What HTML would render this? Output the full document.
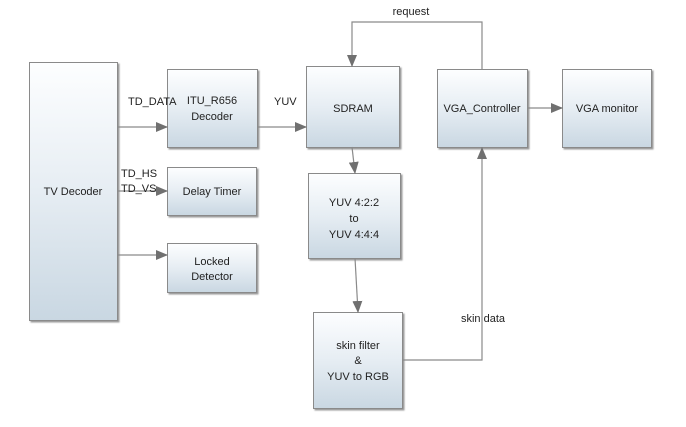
<!DOCTYPE html>
<html><head><style>body{margin:0;background:#fff}svg{display:block}text{font-family:"Liberation Sans",sans-serif;font-size:11px;fill:#222}</style></head>
<body>
<svg width="686" height="427" viewBox="0 0 686 427">
<defs>
<linearGradient id="g" x1="0" y1="0" x2="0" y2="1"><stop offset="0" stop-color="#fdfeff"/><stop offset="0.5" stop-color="#e6edf3"/><stop offset="1" stop-color="#c9d7e2"/></linearGradient>
<marker id="a" markerWidth="12" markerHeight="10" refX="11" refY="5" orient="auto" markerUnits="userSpaceOnUse"><path d="M0,0 L12,5 L0,10 z" fill="#707070"/></marker>
<filter id="s"><feDropShadow dx="1.5" dy="1.5" stdDeviation="0.8" flood-color="#999"/></filter>
</defs>
<g fill="url(#g)" stroke="#8a8a8a" stroke-width="1" filter="url(#s)">
<rect x="29.5" y="62.5" width="88" height="258"/>
<rect x="167.5" y="69.5" width="90" height="78"/>
<rect x="167.5" y="167.5" width="89" height="48"/>
<rect x="167.5" y="243.5" width="89" height="49"/>
<rect x="306.5" y="66.5" width="93" height="81"/>
<rect x="308.5" y="173.5" width="92" height="85"/>
<rect x="313.5" y="312.5" width="89" height="96"/>
<rect x="437.5" y="69.5" width="90" height="78"/>
<rect x="562.5" y="69.5" width="89" height="78"/>
</g>
<g stroke="#8a8a8a" stroke-width="1.2" fill="none">
<path d="M117,127 H167" marker-end="url(#a)"/>
<path d="M257,127 H306" marker-end="url(#a)"/>
<path d="M117,191 H167" marker-end="url(#a)"/>
<path d="M117,255 H167" marker-end="url(#a)"/>
<path d="M352,147 L355,173" marker-end="url(#a)"/>
<path d="M355,258 L358,312" marker-end="url(#a)"/>
<path d="M402,360 H482 V148" marker-end="url(#a)"/>
<path d="M482,69 V22 H352 V66" marker-end="url(#a)"/>
<path d="M527,108 H562" marker-end="url(#a)"/>
</g>
<g text-anchor="middle">
<text x="73" y="195">TV Decoder</text>
<text x="212" y="104">ITU_R656</text><text x="212" y="120">Decoder</text>
<text x="212" y="195">Delay Timer</text>
<text x="212" y="265">Locked</text><text x="212" y="280">Detector</text>
<text x="353" y="112">SDRAM</text>
<text x="354" y="206">YUV 4:2:2</text><text x="354" y="222">to</text><text x="354" y="238">YUV 4:4:4</text>
<text x="358" y="349">skin filter</text><text x="358" y="364">&amp;</text><text x="358" y="380">YUV to RGB</text>
<text x="482" y="112">VGA_Controller</text>
<text x="607" y="112">VGA monitor</text>
<text x="411" y="15">request</text>
<text x="483" y="322">skin data</text>
</g>
<text x="128" y="105">TD_DATA</text>
<text x="274" y="105">YUV</text>
<text x="121" y="177">TD_HS</text>
<text x="121" y="192">TD_VS</text>
</svg>
</body></html>
